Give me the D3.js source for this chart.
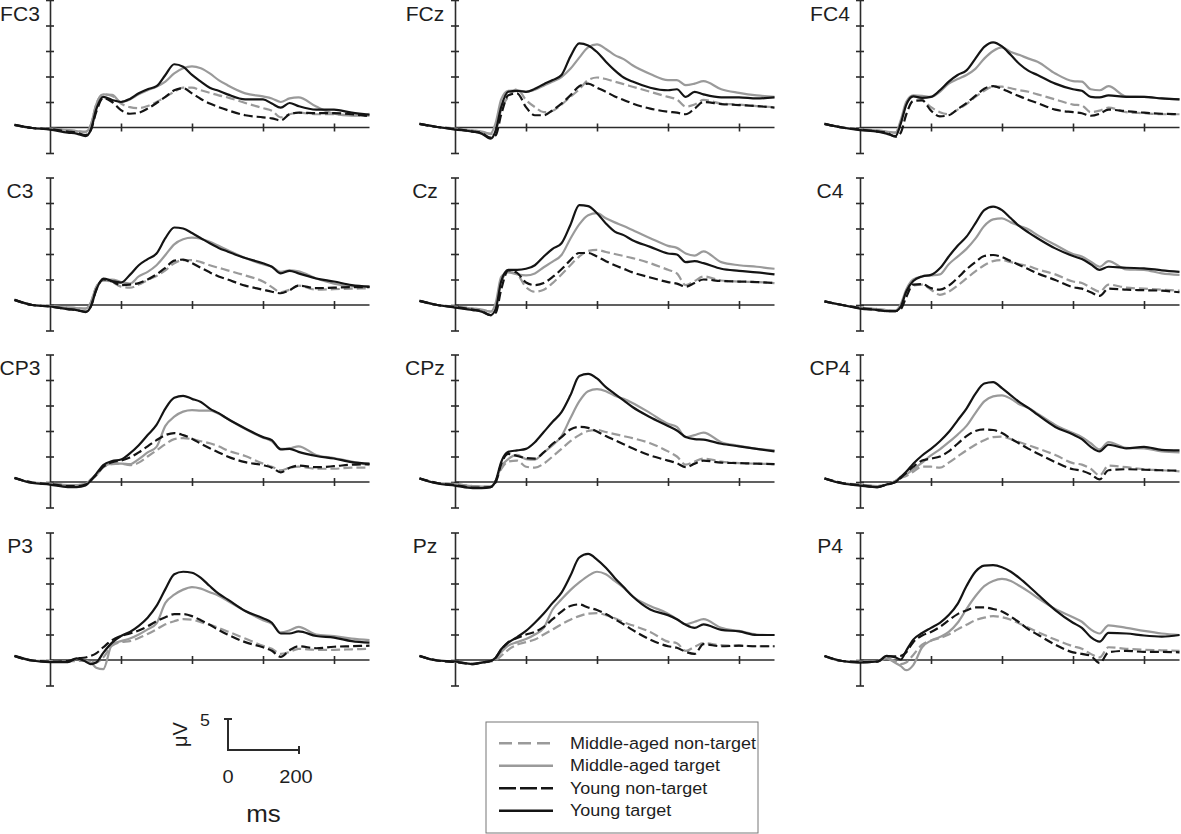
<!DOCTYPE html>
<html lang="en">
<head>
  <meta charset="UTF-8">
  <title>ERP waveforms - middle-aged vs young</title>
  <script src="https://d3js.org/d3.v7.min.js"></script>
  <style>
    body { margin: 0; background: #fff; }
    svg { display: block; font-family: "Liberation Sans", Arial, sans-serif; }
  </style>
</head>
<body>
  <svg id="chart" width="1181" height="834"></svg>

  <script>
    // sample times (ms) shared by every waveform
    const times = [-100,-50,0,50,75,100,115,130,150,175,200,225,250,275,300,325,350,375,400,425,450,475,500,550,600,625,650,675,700,750,800,850,900];

    const channels = ["FC3","FCz","FC4","C3","Cz","C4","CP3","CPz","CP4","P3","Pz","P4"];
    const conditions = ["Middle-aged non-target","Middle-aged target","Young non-target","Young target"];
    const yTicks = [-5, 0, 5, 10, 15, 20, 25];
    const xTicks = [200, 400, 600, 800];

    // amplitudes (uV): mn = middle-aged non-target, mt = middle-aged target,
    // yn = young non-target, yt = young target
    const fc3_mn = [0.5,-0.1,-0.2,-0.5,-0.7,-0.8,0.5,4.5,6.5,6.2,4.7,4.0,3.8,4.2,5.0,6.0,7.0,7.8,7.8,7.3,6.8,6.3,5.9,4.8,3.8,3.3,2.0,2.6,2.9,2.6,2.6,2.4,2.3];
    const fc3_mt = [0.5,-0.1,-0.2,-0.5,-0.7,-0.9,0.5,4.5,6.5,6.4,5.0,5.5,6.5,7.3,8.0,9.0,10.6,11.6,12.0,11.6,10.6,9.3,8.3,6.7,6.1,5.7,5.0,5.7,5.9,4.1,2.7,2.3,2.7];
    const fc3_yn = [0.5,-0.1,-0.3,-0.8,-1.0,-1.5,-0.5,3.0,5.8,5.0,3.4,2.7,2.9,3.7,4.8,6.0,7.3,7.7,6.7,5.6,4.7,4.0,3.4,2.4,2.0,1.8,1.4,2.6,2.9,2.8,2.8,2.6,2.2];
    const fc3_yt = [0.5,-0.1,-0.4,-1.0,-1.2,-1.7,-0.5,3.5,6.0,5.4,5.0,5.6,6.7,7.5,8.1,10.3,12.4,11.9,10.3,9.0,7.8,7.2,6.5,5.5,5.5,4.7,3.9,4.8,4.2,3.5,3.5,2.9,2.5];

    const fcz_mn = [0.7,0.1,-0.2,-0.6,-0.8,-1.3,-0.5,3.5,6.0,7.5,5.4,4.0,3.0,3.3,4.5,6.0,7.5,9.3,9.8,9.5,9.0,8.5,8.0,7.0,6.0,5.5,4.1,4.5,5.4,4.7,4.5,4.2,4.0];
    const fcz_mt = [0.7,0.1,-0.2,-0.6,-0.8,-1.2,1.0,5.5,7.2,7.3,7.0,7.4,8.2,9.0,9.9,11.5,13.7,15.7,16.3,15.4,14.2,13.4,12.2,10.5,9.3,9.3,8.3,8.6,9.1,7.5,6.8,6.3,6.0];
    const fcz_yn = [0.7,0.1,-0.3,-0.8,-1.1,-2.0,-1.5,2.5,6.3,6.7,4.0,2.4,2.4,3.4,4.7,6.3,8.1,8.6,7.8,7.0,6.1,5.4,4.7,3.7,3.1,2.9,2.6,3.7,5.0,4.6,4.4,4.2,3.9];
    const fcz_yt = [0.7,0.1,-0.4,-0.8,-1.2,-2.2,-0.5,4.0,7.0,7.2,7.0,7.6,8.5,9.3,10.3,13.9,16.5,16.1,14.8,12.9,11.2,9.8,9.0,7.8,7.3,7.5,6.0,7.0,6.5,5.9,5.9,5.7,5.9];

    const fc4_mn = [0.7,0.0,-0.3,-0.6,-0.8,-1.0,1.0,4.5,6.1,5.5,4.0,3.0,2.6,3.5,4.6,6.0,7.2,8.0,8.0,7.7,7.3,7.0,6.5,5.5,4.5,4.3,3.0,3.3,3.9,3.0,2.8,2.6,2.6];
    const fc4_mt = [0.7,0.0,-0.3,-0.6,-0.8,-1.0,1.5,5.0,6.3,6.2,6.0,7.0,8.6,9.5,10.3,11.5,13.5,15.0,15.7,14.8,14.2,13.5,12.9,10.6,9.1,9.0,7.5,7.3,8.1,6.1,6.0,5.7,5.5];
    const fc4_yn = [0.7,0.0,-0.4,-0.8,-1.0,-1.8,-1.0,2.5,5.2,5.3,3.3,2.2,2.4,3.6,4.8,6.2,7.6,8.1,7.6,6.8,6.1,5.4,4.8,3.5,3.0,2.8,2.3,2.7,3.5,3.2,2.9,2.7,2.6];
    const fc4_yt = [0.7,0.0,-0.5,-0.8,-1.2,-1.7,0.8,4.4,6.1,5.8,6.0,7.3,9.0,10.3,11.2,13.5,15.8,16.7,15.9,14.2,12.4,11.1,10.3,8.6,7.5,7.2,6.0,5.9,6.3,6.0,6.0,5.7,5.5];

    const c3_mn = [1.0,0.0,-0.2,-0.5,-0.6,-0.7,0.5,3.5,4.8,4.5,3.6,3.4,4.0,4.9,5.7,6.8,8.2,8.8,8.8,8.4,7.8,7.3,6.8,5.8,4.6,3.5,2.5,3.0,3.8,3.0,3.1,3.2,3.3];
    const c3_mt = [1.0,0.0,-0.2,-0.5,-0.6,-0.7,0.5,3.5,4.8,5.0,4.5,4.2,5.6,6.5,7.8,9.8,11.9,12.9,13.2,13.0,12.4,11.6,10.8,9.2,8.0,7.5,6.5,6.8,6.6,5.2,4.2,3.7,3.6];
    const c3_yn = [1.0,0.0,-0.3,-0.8,-1.0,-1.3,-0.3,2.9,5.0,4.6,3.9,4.0,4.3,5.0,6.0,7.3,8.7,8.9,8.2,7.3,6.4,5.6,5.0,3.8,3.0,2.6,2.3,2.9,3.8,3.3,3.4,3.5,3.5];
    const c3_yt = [1.0,0.0,-0.3,-0.8,-1.0,-1.4,-0.3,2.9,5.2,4.7,4.4,5.9,7.8,9.0,10.1,13.1,15.2,15.0,14.1,13.1,12.1,11.2,10.5,9.2,8.2,7.5,6.2,6.7,6.2,5.2,4.6,3.9,3.6];

    const cz_mn = [0.8,0.0,-0.3,-0.7,-0.9,-1.3,0.0,4.5,6.5,6.0,3.5,2.6,3.0,4.3,6.0,7.8,9.5,10.6,10.8,10.4,10.0,9.6,9.2,8.2,6.9,6.2,3.9,4.7,5.6,4.8,4.6,4.5,4.3];
    const cz_mt = [0.8,0.0,-0.3,-0.7,-0.9,-1.3,0.5,5.5,6.4,6.0,5.8,6.2,7.4,8.5,9.8,13.0,15.8,17.6,18.0,17.0,16.2,15.5,14.7,13.1,11.6,11.2,10.1,9.7,10.5,8.4,7.8,7.5,7.1];
    const cz_yn = [0.8,0.0,-0.4,-0.9,-1.2,-2.0,-1.5,3.0,6.8,6.3,4.4,3.9,4.3,5.5,7.0,8.8,10.2,10.2,9.5,8.6,7.8,7.1,6.4,5.4,4.5,4.2,3.6,4.3,5.0,4.7,4.6,4.5,4.3];
    const cz_yt = [0.8,0.0,-0.5,-1.0,-1.3,-2.0,-0.7,4.6,6.9,6.9,7.1,7.8,9.5,11.0,12.1,15.7,19.6,19.4,18.0,16.0,14.4,13.7,12.7,11.4,10.1,9.9,8.4,8.6,8.2,7.1,6.7,6.4,6.0];

    const c4_mn = [0.7,0.0,-0.5,-0.8,-1.0,-1.1,0.0,2.5,3.8,4.0,3.0,2.0,2.6,3.8,5.2,6.6,7.8,8.6,8.8,8.4,8.0,7.6,7.0,6.0,4.6,4.3,3.4,2.6,4.0,3.4,3.2,3.0,2.8];
    const c4_mt = [0.7,0.0,-0.5,-0.8,-1.0,-1.1,0.2,3.0,5.0,5.6,5.8,6.0,8.0,9.5,11.0,13.0,15.5,16.8,17.0,16.2,15.5,14.8,13.7,11.8,10.0,9.5,8.5,7.5,8.6,7.0,6.9,6.2,5.9];
    const c4_yn = [0.7,0.0,-0.6,-1.0,-1.2,-1.2,-0.8,1.5,4.0,4.1,3.3,3.0,3.8,5.3,7.0,8.4,9.6,9.8,9.4,8.6,7.8,7.0,6.2,4.9,3.5,3.2,2.5,1.8,3.2,3.0,2.9,2.8,2.5];
    const c4_yt = [0.7,0.0,-0.7,-1.0,-1.2,-1.2,-0.3,2.6,4.7,5.6,5.9,7.2,9.5,11.6,13.4,16.0,18.6,19.3,18.6,17.0,15.4,14.2,13.1,11.1,9.6,9.0,8.0,6.9,7.5,7.3,7.2,6.8,6.5];

    const cp3_mn = [0.8,-0.1,-0.3,-0.6,-0.6,-0.4,0.5,1.3,2.9,3.5,3.6,3.3,3.8,5.0,6.2,7.4,8.4,8.6,8.4,8.0,7.6,7.0,6.2,5.1,3.6,3.0,2.3,2.8,3.0,2.6,2.6,2.8,2.8];
    const cp3_mt = [0.8,-0.1,-0.3,-0.6,-0.6,-0.4,0.5,1.3,2.9,3.6,3.6,3.5,4.5,5.8,6.9,11.0,12.8,13.8,14.1,14.0,14.0,13.4,12.4,10.4,8.7,8.0,6.5,6.6,7.0,5.3,4.7,4.0,3.3];
    const cp3_yn = [0.8,-0.1,-0.4,-0.8,-0.8,-0.5,0.3,1.4,3.0,3.9,4.2,4.8,5.8,7.0,8.2,9.2,9.6,9.2,8.5,7.5,6.6,5.8,5.0,3.9,3.3,2.8,1.9,2.8,3.2,2.9,3.1,3.4,3.5];
    const cp3_yt = [0.8,-0.2,-0.5,-1.0,-1.0,-0.7,0.3,1.6,3.3,4.1,4.4,5.6,7.2,9.2,11.2,14.4,16.5,16.9,16.3,15.7,14.4,13.5,12.4,10.5,8.8,8.2,6.4,6.5,5.9,5.1,4.6,3.9,3.6];

    const cpz_mn = [0.7,-0.2,-0.4,-0.8,-0.9,-0.9,0.3,2.5,4.0,4.2,3.0,2.8,3.6,5.0,6.5,8.0,9.2,10.0,10.2,9.8,9.4,9.0,8.6,7.6,6.0,5.0,3.4,4.0,4.6,4.0,3.7,3.6,3.5];
    const cpz_mt = [0.7,-0.2,-0.4,-0.8,-0.9,-0.9,0.3,3.0,4.5,5.3,4.5,4.4,5.8,7.2,9.0,12.5,15.8,17.8,18.2,17.8,16.9,16.3,15.5,13.5,11.4,10.8,8.8,9.2,9.7,7.8,7.1,6.5,6.2];
    const cpz_yn = [0.7,-0.2,-0.6,-1.1,-1.1,-1.0,0.0,3.5,5.5,5.1,4.7,4.6,5.8,7.5,8.8,10.3,10.8,10.6,9.9,9.0,8.2,7.4,6.6,5.2,4.2,3.7,2.9,3.6,4.2,3.8,3.7,3.6,3.5];
    const cpz_yt = [0.7,-0.3,-0.7,-1.2,-1.2,-1.0,0.3,3.9,5.9,6.2,6.5,7.8,9.8,11.8,13.7,17.0,20.8,21.2,20.3,18.6,17.3,16.0,14.7,12.7,11.0,10.1,8.8,8.4,8.3,7.5,7.0,6.5,6.0];

    const cp4_mn = [0.7,-0.2,-0.5,-0.8,-0.5,0.2,0.8,1.2,2.0,3.0,3.0,2.8,3.8,5.0,6.2,7.3,8.2,8.8,8.9,8.4,7.8,7.2,6.6,5.3,3.7,3.4,2.6,1.3,3.2,2.9,2.5,2.3,2.1];
    const cp4_mt = [0.7,-0.2,-0.5,-0.8,-0.5,0.2,1.0,1.5,2.5,3.8,5.2,6.4,7.8,9.3,11.0,13.5,15.8,16.8,17.0,16.3,15.2,14.5,13.4,11.2,9.6,8.8,7.6,6.4,7.8,6.7,6.6,6.0,5.8];
    const cp4_yn = [0.7,-0.2,-0.6,-1.0,-0.5,0.0,0.8,1.8,3.0,4.2,4.6,5.0,6.0,7.5,9.0,10.0,10.3,10.2,9.6,8.5,7.5,6.5,5.6,3.9,2.5,2.2,1.5,0.5,2.3,2.5,2.4,2.3,2.2];
    const cp4_yt = [0.7,-0.3,-0.7,-1.0,-0.5,0.0,1.0,2.0,3.6,5.2,6.5,8.0,9.8,12.1,14.4,17.3,19.3,19.6,18.4,17.0,15.6,14.5,13.2,10.8,9.3,8.4,6.9,6.0,7.3,6.6,6.9,6.3,6.2];

    const p3_mn = [0.8,-0.1,-0.2,-0.3,-0.2,-0.2,-0.3,-0.5,0.5,2.8,3.5,3.7,4.3,5.1,6.0,7.0,7.6,8.0,7.9,7.4,6.9,6.3,5.6,4.2,2.8,2.2,1.2,1.6,2.2,2.0,2.0,2.1,2.2];
    const p3_mt = [0.8,-0.1,-0.2,-0.3,0.2,-0.2,-0.5,-1.5,-1.8,3.1,3.7,4.2,5.0,6.0,7.2,11.2,12.8,13.8,14.3,14.0,13.3,12.6,11.6,9.6,7.8,7.1,5.4,5.8,6.5,5.0,4.7,4.2,3.9];
    const p3_yn = [0.8,-0.1,-0.3,-0.2,0.3,0.5,0.8,1.3,2.5,3.9,4.7,5.2,5.8,6.6,7.6,8.4,9.0,9.0,8.6,7.8,6.9,5.9,5.0,3.5,2.5,1.8,0.6,1.9,2.7,2.3,2.6,2.7,2.8];
    const p3_yt = [0.8,-0.1,-0.4,-0.4,0.3,-0.3,-0.8,-0.5,1.4,3.4,4.7,5.5,6.7,8.3,10.6,13.9,16.8,17.3,17.1,16.1,14.5,13.0,11.9,9.6,8.2,7.3,5.2,5.2,5.6,4.7,4.4,3.7,3.4];

    const pz_mn = [0.8,-0.1,-0.3,-0.7,-0.5,-0.3,0.0,0.8,2.0,3.0,3.5,4.0,5.0,6.0,7.0,7.9,8.6,9.1,9.2,8.8,8.2,7.4,6.8,5.5,3.6,3.3,1.8,2.6,3.3,2.9,2.8,2.7,2.7];
    const pz_mt = [0.8,-0.1,-0.3,-0.7,-0.5,-0.2,0.3,1.5,2.8,3.5,4.1,5.0,6.3,9.9,11.9,13.7,15.2,16.5,17.3,16.8,15.5,14.2,12.5,10.6,9.1,8.0,7.0,7.5,8.0,6.3,5.7,5.0,4.9];
    const pz_yn = [0.8,-0.1,-0.4,-0.8,-0.5,-0.2,0.5,2.0,3.5,4.3,5.0,5.5,6.5,8.0,9.5,10.6,10.9,10.3,9.8,9.0,8.0,7.0,5.9,4.0,2.7,2.4,1.6,1.2,3.1,2.7,2.8,2.7,2.7];
    const pz_yt = [0.8,-0.1,-0.3,-0.8,-0.5,-0.2,0.5,2.1,3.4,4.5,5.7,7.3,9.1,11.2,13.2,16.5,20.1,20.8,19.7,18.1,16.1,14.3,12.5,9.9,8.8,8.0,6.9,6.3,7.0,5.9,5.6,4.9,4.9];

    const p4_mn = [0.8,-0.2,-0.3,-0.2,0.3,-0.3,-0.8,-0.5,1.0,3.0,3.8,4.3,5.0,6.0,6.9,7.8,8.3,8.6,8.4,7.9,7.1,6.3,5.5,4.0,2.7,2.2,1.2,0.5,2.5,2.2,2.0,1.9,1.8];
    const p4_mt = [0.8,-0.2,-0.3,-0.2,0.3,-0.6,-1.2,-2.0,-1.0,2.5,3.8,4.5,5.5,7.3,10.0,12.5,14.5,15.5,15.9,15.5,14.5,13.4,12.2,10.0,8.4,7.5,6.0,5.2,6.8,6.3,5.7,5.2,4.9];
    const p4_yn = [0.8,-0.2,-0.4,-0.3,0.7,0.7,0.8,1.5,3.5,4.8,5.5,6.5,7.8,9.0,9.7,10.3,10.3,10.0,9.5,8.5,7.3,6.0,5.0,3.0,1.5,1.2,0.8,-0.6,1.5,1.8,1.6,1.6,1.5];
    const p4_yt = [0.8,-0.2,-0.5,-0.3,0.8,0.5,0.1,1.8,4.0,5.3,6.3,7.3,8.8,11.0,14.5,17.3,18.5,18.6,18.2,17.3,16.0,14.5,12.9,9.8,7.3,6.3,4.5,3.6,5.3,5.2,4.8,4.6,4.9];

    const waves = {
      FC3: [fc3_mn, fc3_mt, fc3_yn, fc3_yt], FCz: [fcz_mn, fcz_mt, fcz_yn, fcz_yt], FC4: [fc4_mn, fc4_mt, fc4_yn, fc4_yt],
      C3: [c3_mn, c3_mt, c3_yn, c3_yt],       Cz: [cz_mn, cz_mt, cz_yn, cz_yt],       C4: [c4_mn, c4_mt, c4_yn, c4_yt],
      CP3: [cp3_mn, cp3_mt, cp3_yn, cp3_yt], CPz: [cpz_mn, cpz_mt, cpz_yn, cpz_yt], CP4: [cp4_mn, cp4_mt, cp4_yn, cp4_yt],
      P3: [p3_mn, p3_mt, p3_yn, p3_yt],       Pz: [pz_mn, pz_mt, pz_yn, pz_yt],       P4: [p4_mn, p4_mt, p4_yn, p4_yt]
    };

    const grey = "#9a9a9a", black = "#141414";
    const lineStyles = [
      {stroke: grey,  dash: "9,4",  legendDash: "13,6"},
      {stroke: grey,  dash: null,   legendDash: null},
      {stroke: black, dash: "9,4",  legendDash: "17,4"},
      {stroke: black, dash: null,   legendDash: null}
    ];

    const svg = d3.select("#chart");
    const axisColor = "#2b2b2b";

    // text helper: the original lettering is a little wider than Arial
    function label(parent, str, x, y, size, anchor, stretch) {
      return parent.append("text")
        .attr("transform", `translate(${x},${y}) scale(${stretch || 1.08},1)`)
        .attr("text-anchor", anchor || "middle")
        .attr("font-size", size)
        .attr("fill", "#1e1e1e")
        .text(str);
    }

    // -------- panels --------
    const colX = [50, 455, 860];          // x of the y axis (t = 0)
    const rowBase = [127.5, 305, 482, 660]; // y of the 0 uV line

    channels.forEach((ch, i) => {
      const ax = colX[i % 3];
      const base = rowBase[Math.floor(i / 3)];
      const g = svg.append("g");

      const x = d3.scaleLinear().domain([-100, 900]).range([ax - 35.5, ax + 319.5]);
      const y = d3.scaleLinear().domain([-5, 25]).range([base + 25.5, base - 127.5]);

      // y axis, ticks crossing the line
      const yl = g.append("g").attr("transform", `translate(${ax},0)`)
        .call(d3.axisLeft(y).tickValues(yTicks).tickSize(4).tickSizeOuter(0).tickFormat(""));
      const yr = g.append("g").attr("transform", `translate(${ax},0)`)
        .call(d3.axisRight(y).tickValues(yTicks).tickSize(4).tickSizeOuter(0).tickFormat(""));
      yr.select(".domain").remove();

      // x axis at 0 uV
      const xb = g.append("g").attr("transform", `translate(0,${y(0)})`)
        .call(d3.axisBottom(x).tickValues(xTicks).tickSize(4).tickFormat(""));
      const xt = g.append("g").attr("transform", `translate(0,${y(0)})`)
        .call(d3.axisTop(x).tickValues(xTicks).tickSize(4).tickFormat(""));
      xb.select(".domain").remove();
      xt.select(".domain").remove();
      g.append("line")
        .attr("x1", x(0)).attr("x2", x(900))
        .attr("y1", y(0)).attr("y2", y(0));

      g.selectAll("path.domain, line")
        .attr("stroke", axisColor)
        .attr("stroke-width", 1.6);

      // waveforms
      const line = d3.line()
        .x((d, j) => x(times[j]))
        .y(d => y(d))
        .curve(d3.curveMonotoneX);

      waves[ch].forEach((vals, k) => {
        g.append("path")
          .datum(vals)
          .attr("fill", "none")
          .attr("stroke", lineStyles[k].stroke)
          .attr("stroke-width", 2.2)
          .attr("stroke-linejoin", "round")
          .attr("stroke-dasharray", lineStyles[k].dash)
          .attr("d", line);
      });

      label(g, ch, ax - 30, base - 107, 19.5);
    });

    // -------- scale bar --------
    const sb = svg.append("g");
    const sbX = d3.scaleLinear().domain([0, 200]).range([228, 299]);
    const sbY = d3.scaleLinear().domain([0, 5]).range([750, 719]);
    sb.append("path")
      .attr("d", `M${sbX(0)},${sbY(5)}V${sbY(0)}H${sbX(200)}` +
                 `M${sbX(0) - 4},${sbY(5)}H${sbX(0) + 4}` +
                 `M${sbX(200)},${sbY(0) - 4}V${sbY(0) + 4}`)
      .attr("fill", "none")
      .attr("stroke", axisColor)
      .attr("stroke-width", 2);
    label(sb, "5", sbX(0) - 23, sbY(5) + 7, 16.5);
    label(sb, "0", sbX(0), 783, 18.5);
    label(sb, "200", sbX(200) - 3, 783, 18.5);
    label(sb, "ms", (sbX(0) + sbX(200)) / 2, 822, 24);
    sb.append("text")
      .attr("transform", `translate(187,${sbY(2.5)}) rotate(-90)`)
      .attr("text-anchor", "middle")
      .attr("font-size", 20)
      .attr("fill", "#1e1e1e")
      .text("μV");

    // -------- legend --------
    const lg = svg.append("g");
    lg.append("rect")
      .attr("x", 486).attr("y", 722)
      .attr("width", 272).attr("height", 111)
      .attr("fill", "none")
      .attr("stroke", "#777")
      .attr("stroke-width", 1);

    conditions.forEach((name, k) => {
      const ly = 743.3 + k * 22.5;
      lg.append("line")
        .attr("x1", 499).attr("x2", 553)
        .attr("y1", ly).attr("y2", ly)
        .attr("stroke", lineStyles[k].stroke)
        .attr("stroke-width", 2.5)
        .attr("stroke-dasharray", lineStyles[k].legendDash);
      label(lg, name, 570, ly + 5.5, 16.5, "start", 1.09);
    });
  </script>
</body>
</html>
